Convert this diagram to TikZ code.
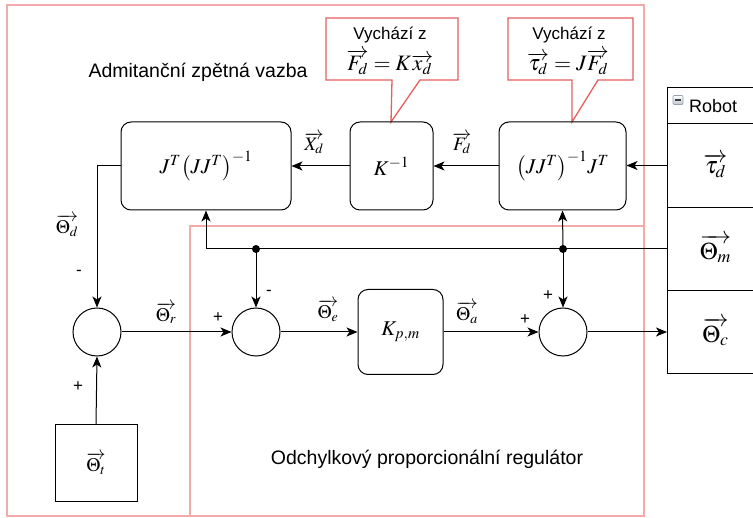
\documentclass[tikz,border=0pt]{standalone}
\usepackage{mathptmx}
\usepackage[no-math]{fontspec}
\setmainfont{Liberation Sans}
\usetikzlibrary{arrows.meta}
\definecolor{pinkframe}{RGB}{242,170,170}
\definecolor{callred}{RGB}{230,95,95}
\definecolor{icongray}{RGB}{150,160,175}
\begin{document}
\begin{tikzpicture}[x=1pt,y=-1pt,
  blk/.style={draw, rounded corners=10pt, line width=1pt, font=\fontsize{21}{24}\selectfont},
  sumc/.style={draw, circle, minimum size=48pt, inner sep=0pt, line width=1pt},
  conn/.style={line width=1pt, -{Stealth[length=11pt,width=9pt,inset=3pt]}},
  lbl/.style={inner sep=0pt, font=\fontsize{19}{22}\selectfont},
  sgn/.style={inner sep=0pt, font=\fontsize{17}{17}\selectfont},
  txt/.style={inner sep=0pt, font=\fontsize{17}{20}\selectfont},
  ttl/.style={inner sep=0pt, font=\fontsize{19.5}{22}\selectfont},
  frame/.style={draw=pinkframe, line width=1.2pt},
  callout/.style={draw=callred, line width=1.3pt, fill=white},
  rrow/.style={draw, line width=1pt, anchor=north west, minimum width=96pt, inner sep=0pt, font=\fontsize{24}{26}\selectfont},
]
\useasboundingbox (0,0) rectangle (753,518);
\clip (0,0) rectangle (753,518);
% frames
\draw[frame] (7,5) rectangle (644,516);
\draw[frame] (190,226) rectangle (644,516);
% callouts
\draw[callout] (326,18) -- (458,18) -- (458,80) -- (420,80) -- (391,122) -- (392,80) -- (326,80) -- cycle;
\draw[callout] (508,18) -- (633,18) -- (633,80) -- (598,80) -- (572,122) -- (572,80) -- (508,80) -- cycle;
\node[txt] (c1a) at (390,35) {Vychází z};
\node[inner sep=0pt, font=\fontsize{22}{24}\selectfont] (c1b) at (390,62) {$\overrightarrow{F_d}=K\overrightarrow{x_d}$};
\node[txt] (c2a) at (569,35) {Vychází z};
\node[inner sep=0pt, font=\fontsize{22}{24}\selectfont] (c2b) at (568,62) {$\overrightarrow{\tau_d}=J\overrightarrow{F_d}$};
% blocks
\node[blk, minimum width=170pt, minimum height=88pt] (A) at (206,166) {$J^T\bigl(JJ^T\bigr)^{-1}$};
\node[blk, minimum width=83pt, minimum height=88pt] (K) at (391.5,166) {$K^{-1}$};
\node[blk, minimum width=127pt, minimum height=88pt] (C) at (562.5,166) {$\bigl(JJ^T\bigr)^{-1}J^T$};
\node[blk, minimum width=85pt, minimum height=85pt] (P) at (400.5,332) {$K_{p,m}$};
\node[sumc] (s1) at (97,332) {};
\node[sumc] (s2) at (256,332) {};
\node[sumc] (s3) at (563,332) {};
\node[draw, line width=1pt, minimum width=82pt, minimum height=77pt, inner sep=0pt, font=\fontsize{19}{22}\selectfont] (T) at (96,463.5) {$\overrightarrow{\Theta_t}$};
% robot
\node[rrow, minimum height=36pt] (rh) at (667,87) {};
\node[rrow, minimum height=84pt] (r1) at (667,123) {$\overrightarrow{\tau_d}$};
\node[rrow, minimum height=83pt] (r2) at (667,207) {$\overrightarrow{\Theta_m}$};
\node[rrow, minimum height=83pt] (r3) at (667,290) {$\overrightarrow{\Theta_c}$};
\node[draw=icongray, top color=white, bottom color=icongray!60, minimum width=10pt, minimum height=9pt, inner sep=0pt, line width=0.6pt, rounded corners=1pt] (icon) at (678,100) {};
\draw[line width=1.2pt, black!75] ([xshift=-3pt]icon.center) -- ([xshift=3pt]icon.center);
\node[inner sep=0pt, font=\fontsize{18}{20}\selectfont, anchor=west] (rt) at (689,106) {Robot};
% connectors
\draw[conn] (r1.west) -- (r1.west -| C.east);
\draw[conn] (C.west) -- (K.east);
\draw[conn] (K.west) -- (A.east);
\draw[conn] (A.west) -| (s1.north);
\draw[conn] (T.north) -- (s1.south);
\draw[conn] (s1.east) -- (s2.west);
\draw[conn] (s2.east) -- (P.west);
\draw[conn] (P.east) -- (s3.west);
\draw[conn] (s3.east) -- (s3.east -| r3.west);
\coordinate (d1) at (s2.north |- r2.west);
\coordinate (d2) at (s3.north |- r2.west);
\draw[conn] (r2.west) -| (A.south);
\draw[conn] (d1) -- (s2.north);
\draw[conn] (d2) -- (s3.north);
\draw[conn] (d2) -- (C.south);
\fill (d1) circle (4pt);
\fill (d2) circle (4pt);
% labels
\node[lbl] (lXd) at (314,143) {$\overrightarrow{X_d}$};
\node[lbl] (lFd) at (462,143) {$\overrightarrow{F_d}$};
\node[lbl] (lThd) at (67,226) {$\overrightarrow{\Theta_d}$};
\node[lbl] (lThr) at (166,313) {$\overrightarrow{\Theta_r}$};
\node[lbl] (lThe) at (328,311) {$\overrightarrow{\Theta_e}$};
\node[lbl] (lTha) at (467,313) {$\overrightarrow{\Theta_a}$};
\node[sgn] (m1) at (79,273) {-};
\node[sgn] (p1) at (78,387) {+};
\node[sgn] (p2) at (218,318) {+};
\node[sgn] (m2) at (269,293) {-};
\node[sgn] (p3) at (525,320) {+};
\node[sgn] (p4) at (548,296) {+};
% titles
\node[ttl] (tadm) at (198,72) {Admitanční zpětná vazba};
\node[ttl] (todch) at (427,459) {Odchylkový proporcionální regulátor};
\end{tikzpicture}
\end{document}
